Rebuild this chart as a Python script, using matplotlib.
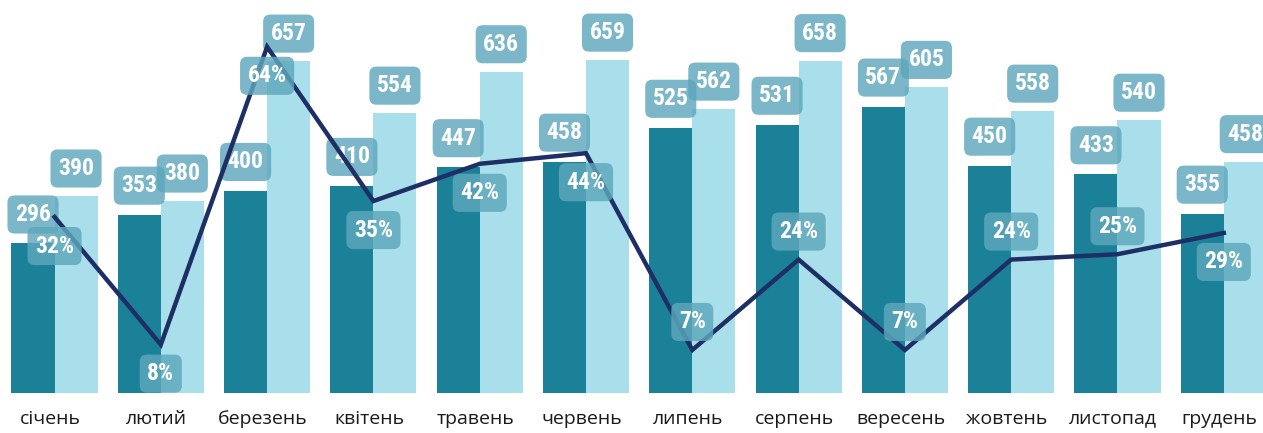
import matplotlib
matplotlib.use("Agg")
import matplotlib.pyplot as plt
from matplotlib import font_manager
import numpy as np

months = ["січень", "лютий", "березень", "квітень", "травень", "червень",
          "липень", "серпень", "вересень", "жовтень", "листопад", "грудень"]
series_dark = [296, 353, 400, 410, 447, 458, 525, 531, 567, 450, 433, 355]
series_light = [390, 380, 657, 554, 636, 659, 562, 658, 605, 558, 540, 458]
share_pct = [32, 8, 64, 35, 42, 44, 7, 24, 7, 24, 25, 29]
pct_label_below = [True, True, True, True, True, True, False, False, False, False, False, True]

DARK = "#1b8199"
LIGHT = "#a9dfeb"
LINE = "#1e2f66"
BOX = "#5ea7bc"

installed = {f.name for f in font_manager.fontManager.ttflist}
narrow_candidates = ["Liberation Sans Narrow", "DejaVu Sans Condensed", "Roboto Condensed",
                     "Open Sans Condensed", "Noto Sans Condensed", "Roboto"]
narrow = [f for f in narrow_candidates if f in installed] + ["DejaVu Sans"]

W, H = 1263, 433
fig = plt.figure(figsize=(W / 100, H / 100), dpi=100)
ax = fig.add_axes([0, 40 / H, 1, 393 / H])
x = np.arange(len(months))
bw = 0.405

ax.bar(x - bw / 2, series_dark, width=bw, color=DARK, zorder=1)
ax.bar(x + bw / 2, series_light, width=bw, color=LIGHT, zorder=1)
ax.set_xlim(-0.513, 11.369)
ax.set_ylim(0, 778)
for s in ax.spines.values():
    s.set_visible(False)
ax.set_yticks([])
ax.set_xticks(x - 0.04)
ax.set_xticklabels(months, fontsize=14, family=["Open Sans", "DejaVu Sans"], color="#1a1a1a")
ax.tick_params(axis="x", length=0, pad=12)

ax2 = ax.twinx()
ax2.set_ylim(-1.09, 72.8)
ax2.set_yticks([])
for s in ax2.spines.values():
    s.set_visible(False)
ax2.plot(x, share_pct, color=LINE, lw=3.2, zorder=2, solid_joinstyle="miter")

PT = 0.72  # px -> points
lab_font = dict(family=narrow, fontsize=17,
                fontweight="bold", color="white", ha="center", va="center")
box = dict(boxstyle="round,pad=0.32,rounding_size=0.3", fc=BOX, ec="none", alpha=0.82)

for i in range(len(months)):
    ax.annotate(str(series_dark[i]), xy=(x[i] - bw / 2, series_dark[i]),
                xytext=(0, 29 * PT), textcoords="offset points", bbox=box, zorder=5, **lab_font)
    ax.annotate(str(series_light[i]), xy=(x[i] + bw / 2, series_light[i]),
                xytext=(0, 27.5 * PT), textcoords="offset points", bbox=box, zorder=5, **lab_font)
for i in range(len(months)):
    off = -29 if pct_label_below[i] else 28
    ax2.annotate(f"{share_pct[i]}%", xy=(x[i], share_pct[i]),
                 xytext=(0, off * PT), textcoords="offset points", bbox=box, zorder=6, **lab_font)

fig.savefig("out.png", dpi=100)
